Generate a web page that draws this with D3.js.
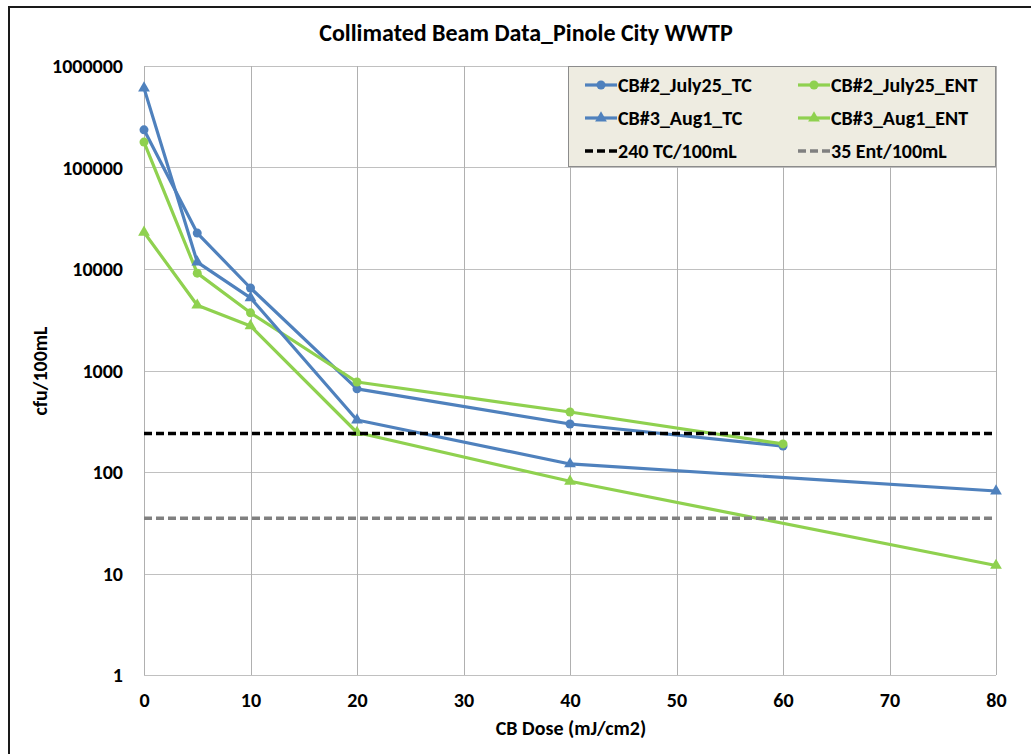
<!DOCTYPE html>
<html>
<head>
<meta charset="utf-8">
<script src="https://cdn.jsdelivr.net/npm/d3@7"></script>
<style>
  html, body { margin: 0; padding: 0; background: #ffffff; }
  svg { display: block; }
  text { font-family: Carlito, Lato, "Open Sans", sans-serif; font-weight: bold; fill: #000; }
</style>
</head>
<body>
<svg id="chart" width="1031" height="754"></svg>
<script>
// Collimated beam dose-response data (cfu/100mL vs. UV dose)
const doseJuly25 = [0, 5, 10, 20, 40, 60];
const doseAug1 = [0, 5, 10, 20, 40, 80];
const july25TC = [235000, 22600, 6500, 660, 297, 180];
const july25ENT = [178000, 9100, 3700, 770, 390, 189];
const aug1TC = [605000, 11700, 5200, 325, 120, 65];
const aug1ENT = [23000, 4400, 2750, 245, 81, 12];
const limitTC = 240;
const limitENT = 35;
const xTicks = [0, 10, 20, 30, 40, 50, 60, 70, 80];
const yTicks = [1, 10, 100, 1000, 10000, 100000, 1000000];

const BLUE = "#4f81bd";
const GREEN = "#8fd14f";

const series = [
  { name: "CB#2_July25_TC", x: doseJuly25, y: july25TC, color: BLUE, marker: "circle" },
  { name: "CB#2_July25_ENT", x: doseJuly25, y: july25ENT, color: GREEN, marker: "circle" },
  { name: "CB#3_Aug1_TC", x: doseAug1, y: aug1TC, color: BLUE, marker: "triangle" },
  { name: "CB#3_Aug1_ENT", x: doseAug1, y: aug1ENT, color: GREEN, marker: "triangle" }
];
const limits = [
  { name: "240 TC/100mL", value: limitTC, color: "#000000" },
  { name: "35 Ent/100mL", value: limitENT, color: "#808080" }
];

const svg = d3.select("#chart");

// outer chart frame
svg.append("rect")
  .attr("x", 9).attr("y", 7).attr("width", 1040).attr("height", 760)
  .attr("fill", "#fff").attr("stroke", "#1a1a1a").attr("stroke-width", 2);

const plot = { left: 144, right: 996, top: 66, bottom: 675 };
const x = d3.scaleLinear().domain([0, 80]).range([plot.left, plot.right]);
const y = d3.scaleLog().domain([1, 1000000]).range([plot.bottom, plot.top]);

// gridlines
const grid = svg.append("g");
grid.selectAll("line.h").data(yTicks).join("line")
  .attr("x1", plot.left).attr("x2", plot.right)
  .attr("y1", d => Math.round(y(d)) + 0.5).attr("y2", d => Math.round(y(d)) + 0.5)
  .attr("stroke", "#c0c0c0").attr("stroke-width", 1);
grid.selectAll("line.v").data(xTicks).join("line")
  .attr("y1", plot.top).attr("y2", plot.bottom)
  .attr("x1", d => Math.round(x(d)) + 0.5).attr("x2", d => Math.round(x(d)) + 0.5)
  .attr("stroke", "#b0b0b0").attr("stroke-width", 1);

// axes (labels only, no domain or tick marks)
const yAxis = d3.axisLeft(y).tickValues(yTicks).tickFormat(d3.format("d")).tickSize(0).tickPadding(21);
const gy = svg.append("g").attr("transform", `translate(${plot.left},0)`).call(yAxis);
gy.select(".domain").remove();
gy.selectAll("text").attr("font-size", 20).attr("font-family", null).attr("dy", "0.34em");

const xAxis = d3.axisBottom(x).tickValues(xTicks).tickFormat(d3.format("d")).tickSize(0).tickPadding(18);
const gx = svg.append("g").attr("transform", `translate(0,${plot.bottom})`).call(xAxis);
gx.select(".domain").remove();
gx.selectAll("text").attr("font-size", 20).attr("font-family", null);

// data series
const line = d3.line().x(d => x(d[0])).y(d => y(d[1]));
const triangle = d3.symbol().type(d3.symbolTriangle).size(60);

function drawMarker(g, kind, color, px, py) {
  if (kind === "circle") {
    g.append("circle").attr("cx", px).attr("cy", py).attr("r", 4.5).attr("fill", color);
  } else {
    g.append("path").attr("d", triangle()).attr("transform", `translate(${px},${py})`).attr("fill", color);
  }
}

series.forEach(s => {
  const pts = s.x.map((d, i) => [d, s.y[i]]);
  const g = svg.append("g");
  g.append("path").datum(pts).attr("d", line)
    .attr("fill", "none").attr("stroke", s.color).attr("stroke-width", 3.2)
    .attr("stroke-linejoin", "round");
  pts.forEach(p => drawMarker(g, s.marker, s.color, x(p[0]), y(p[1])));
});

// regulatory limit lines
limits.forEach(l => {
  svg.append("line")
    .attr("x1", x(0)).attr("x2", x(80))
    .attr("y1", y(l.value)).attr("y2", y(l.value))
    .attr("stroke", l.color).attr("stroke-width", 3.5).attr("stroke-dasharray", "8,4");
});

// title and axis titles
svg.append("text").attr("x", 526).attr("y", 41).attr("text-anchor", "middle")
  .attr("font-size", 24).text("Collimated Beam Data_Pinole City WWTP");
svg.append("text").attr("x", 571).attr("y", 735).attr("text-anchor", "middle")
  .attr("font-size", 20).text("CB Dose (mJ/cm2)");
svg.append("text").attr("transform", "translate(47,371) rotate(-90)").attr("text-anchor", "middle")
  .attr("font-size", 20).text("cfu/100mL");

// legend
const lg = svg.append("g");
lg.append("rect").attr("x", 568.5).attr("y", 66.5).attr("width", 427).attr("height", 100)
  .attr("fill", "#eeece1").attr("stroke", "#8c8c8c").attr("stroke-width", 1);
const legendItems = [
  ...series.map(s => ({ name: s.name, color: s.color, marker: s.marker, dashed: false })),
  ...limits.map(l => ({ name: l.name, color: l.color, marker: null, dashed: true }))
];
const colX = [585, 798];
const rowY = [85, 118, 151];
legendItems.forEach((it, i) => {
  const cx = colX[i % 2], cy = rowY[Math.floor(i / 2)];
  const g = lg.append("g");
  if (it.dashed) {
    g.append("line").attr("x1", cx).attr("x2", cx + 32).attr("y1", cy).attr("y2", cy)
      .attr("stroke", it.color).attr("stroke-width", 3.5).attr("stroke-dasharray", "8,4");
  } else {
    g.append("line").attr("x1", cx).attr("x2", cx + 32).attr("y1", cy).attr("y2", cy)
      .attr("stroke", it.color).attr("stroke-width", 3.2);
    drawMarker(g, it.marker, it.color, cx + 16, cy);
  }
  g.append("text").attr("x", cx + 33).attr("y", cy).attr("dy", "0.35em")
    .attr("font-size", 20).text(it.name);
});
</script>
</body>
</html>
